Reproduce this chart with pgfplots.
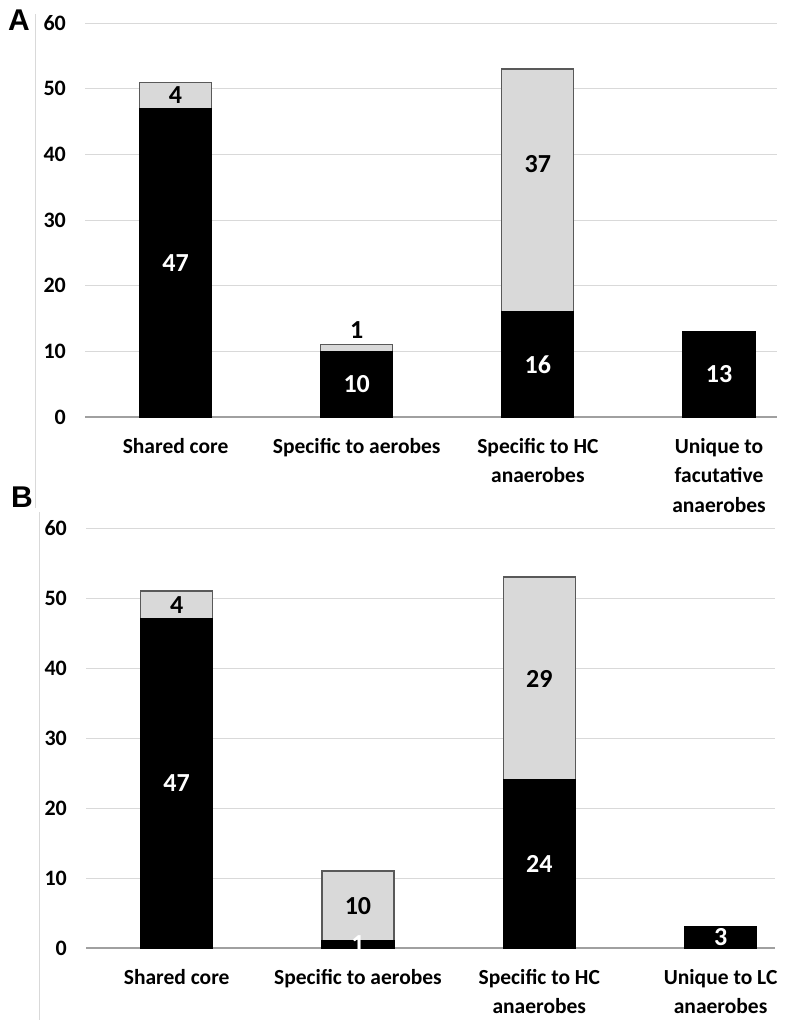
\documentclass[border=0pt]{standalone}
\usepackage{pgfplots}
\pgfplotsset{compat=1.18}
\usepackage{pgfplotstable}
\usepackage{fontspec}
\setmainfont{Carlito}
\newfontfamily\arialfont{Liberation Sans}
\definecolor{gridgray}{HTML}{D9D9D9}
\definecolor{axisgray}{HTML}{A0A0A0}
\definecolor{bargray}{HTML}{D9D9D9}
\definecolor{edgegray}{HTML}{595959}

% panel A: black segment and total (black + grey)
\pgfplotstableread{
x black total
0 47 51
1 10 11
2 16 53
3 13 13
}\dataA
\pgfplotstableread{
x y l
0 23.5 47
1 5 10
2 8 16
3 6.5 13
}\whiteA
\pgfplotstableread{
x y l
0 49 4
1 13.3 1
2 38.5 37
}\blackA
% panel B
\pgfplotstableread{
x black total
0 47 51
1 1 11
2 24 53
3 3 3
}\dataB
\pgfplotstableread{
x y l
0 23.5 47
1 0.6 1
2 12 24
3 1.5 3
}\whiteB
\pgfplotstableread{
x y l
0 49 4
1 6 10
2 38.5 29
}\blackB

\pgfplotsset{
  panel/.style={
    scale only axis, anchor=south west,
    ybar, bar width=72bp, bar shift=0pt,
    ymin=0, ymax=60, ytick={0,10,...,60},
    xtick={0,1,2,3},
    major tick length=0pt,
    /pgf/number format/assume math mode=true,
    ymajorgrids, grid style={color=gridgray, line width=1bp},
    axis x line*=bottom, axis y line*=left,
    x axis line style={draw=axisgray, line width=1.5bp},
    y axis line style={draw=none},
    yticklabel style={anchor=east, inner sep=0pt, xshift=-19bp,
      font=\fontsize{22bp}{24bp}\selectfont\bfseries},
    xticklabel style={anchor=north, inner sep=0pt, yshift=-21bp, align=center,
      font=\fontsize{21.5bp}{29.5bp}\selectfont\bfseries},
    clip=false,
  },
  greybar/.style={fill=bargray, draw=edgegray, line width=1.2bp},
  blackbar/.style={fill=black, draw=black, line width=1.2bp},
  wlab/.style={draw=none, fill=none, nodes near coords, point meta=explicit symbolic,
    every node near coord/.style={anchor=center, text=white,
      font=\fontsize{26bp}{28bp}\selectfont\bfseries}},
  blab/.style={draw=none, fill=none, nodes near coords, point meta=explicit symbolic,
    every node near coord/.style={anchor=center, text=black,
      font=\fontsize{26bp}{28bp}\selectfont\bfseries}},
}

\begin{document}
\begin{tikzpicture}
\useasboundingbox (0,0) rectangle (790bp,-1027bp);
% panel separators and letters
\draw[gridgray, line width=1bp] (35bp,-14bp) -- (35bp,-508bp);
\draw[gridgray, line width=1bp] (39bp,-512bp) -- (39bp,-1020bp);
\node[font=\arialfont\fontsize{30bp}{32bp}\selectfont\bfseries, inner sep=0pt] at (19bp,-20bp) {A};
\node[font=\arialfont\fontsize{30bp}{32bp}\selectfont\bfseries, inner sep=0pt] at (22bp,-497bp) {B};

\begin{axis}[panel, at={(85bp,-417bp)}, width=692bp, height=394bp,
  xmin=-0.5, xmax=3.32,
  xticklabels={Shared core, Specific to aerobes, {Specific to HC\\anaerobes}, {Unique to\\facutative\\anaerobes}}]
\addplot[greybar] table[x=x, y=total] {\dataA};
\addplot[blackbar] table[x=x, y=black] {\dataA};
\addplot[wlab] table[x=x, y=y, meta=l] {\whiteA};
\addplot[blab] table[x=x, y=y, meta=l] {\blackA};
\end{axis}

\begin{axis}[panel, at={(86bp,-948bp)}, width=689bp, height=420bp,
  xmin=-0.5, xmax=3.3,
  xticklabels={Shared core, Specific to aerobes, {Specific to HC\\anaerobes}, {Unique to LC\\anaerobes}}]
\addplot[greybar] table[x=x, y=total] {\dataB};
\addplot[blackbar] table[x=x, y=black] {\dataB};
\addplot[wlab] table[x=x, y=y, meta=l] {\whiteB};
\addplot[blab] table[x=x, y=y, meta=l] {\blackB};
\end{axis}
\end{tikzpicture}
\end{document}
